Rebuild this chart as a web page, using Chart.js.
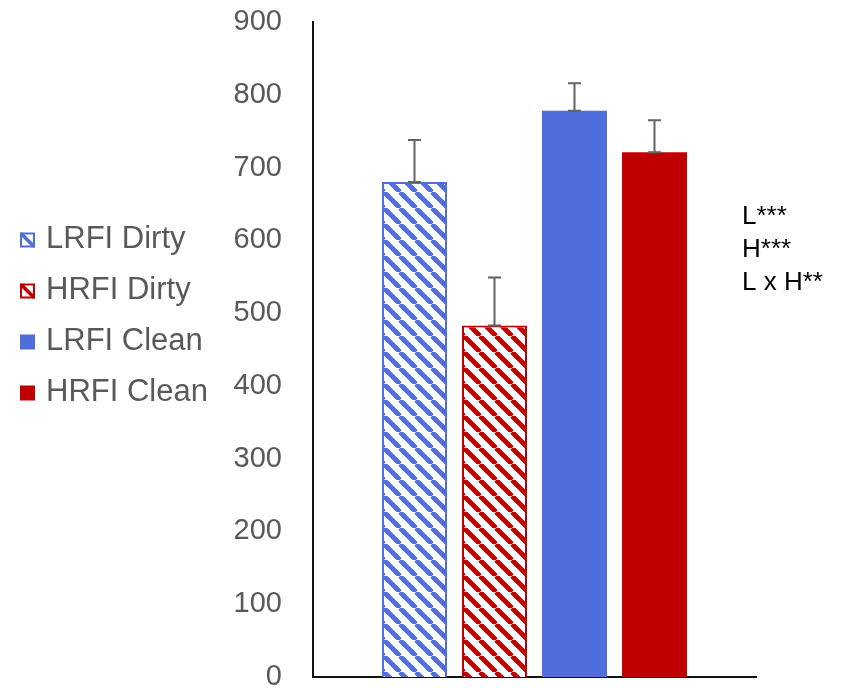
<!DOCTYPE html>
<html><head><meta charset="utf-8">
<script src="https://cdn.jsdelivr.net/npm/chart.js@4"></script>
<style>html,body{margin:0;padding:0;background:#fff}#wrap{width:848px;height:688px}</style>
</head><body><div id="wrap"><canvas id="c" width="848" height="688"></canvas></div>
<script>
const categories = [''];
const seriesNames = ['LRFI Dirty', 'HRFI Dirty', 'LRFI Clean', 'HRFI Clean'];
const seriesValues = [680, 483, 778, 721];
const seriesErrors = [58, 66, 38, 44];
const seriesColors = ['#4F6DDB', '#C00000', '#4F6DDB', '#C00000'];
const seriesHatched = [true, true, false, false];
const yTickValues = [0, 100, 200, 300, 400, 500, 600, 700, 800, 900];
const annotationLines = ['L***', 'H***', 'L x H**'];

const FONT = '"Liberation Sans", Arial, sans-serif';

function makeHatch(color) {
  const c = document.createElement('canvas');
  c.width = 16; c.height = 16;
  const g = c.getContext('2d');
  g.fillStyle = '#fff'; g.fillRect(0, 0, 16, 16);
  g.strokeStyle = color; g.lineWidth = 4.8;
  for (const x0 of [-16, 0, 16]) {
    g.beginPath(); g.moveTo(x0, 0); g.lineTo(x0 + 16, 16); g.stroke();
  }
  return g.createPattern(c, 'repeat');
}

const datasets = seriesNames.map((name, i) => ({
  label: name,
  data: [seriesValues[i]],
  backgroundColor: seriesHatched[i] ? makeHatch(seriesColors[i]) : seriesColors[i],
  borderColor: seriesColors[i],
  borderWidth: seriesHatched[i] ? 2 : 0,
  barPercentage: 0.8125,
  categoryPercentage: 0.7223
}));

const errorBars = {
  id: 'errorBars',
  afterDatasetsDraw(chart) {
    const ctx = chart.ctx, y = chart.scales.y;
    ctx.save();
    ctx.strokeStyle = '#636363';
    ctx.lineWidth = 2;
    chart.data.datasets.forEach((ds, i) => {
      const bar = chart.getDatasetMeta(i).data[0];
      const x = bar.x;
      const yb = y.getPixelForValue(seriesValues[i]);
      const yt = y.getPixelForValue(seriesValues[i] + seriesErrors[i]);
      ctx.beginPath();
      ctx.moveTo(x, yb); ctx.lineTo(x, yt);
      ctx.moveTo(x - 6.5, yt); ctx.lineTo(x + 6.5, yt);
      ctx.moveTo(x - 6.5, yb); ctx.lineTo(x + 6.5, yb);
      ctx.stroke();
    });
    ctx.restore();
  }
};

const customLegend = {
  id: 'customLegend',
  afterDraw(chart) {
    const ctx = chart.ctx;
    const ys = [239, 290, 341, 392];
    ctx.save();
    seriesNames.forEach((name, i) => {
      const cy = ys[i];
      const bx = 20, by = cy - 6.5, s = 15;
      if (seriesHatched[i]) {
        ctx.fillStyle = '#fff'; ctx.fillRect(bx, by, s, s);
        ctx.save();
        ctx.beginPath(); ctx.rect(bx, by, s, s); ctx.clip();
        ctx.strokeStyle = seriesColors[i]; ctx.lineWidth = 3.5;
        ctx.beginPath(); ctx.moveTo(bx, by); ctx.lineTo(bx + s, by + s); ctx.stroke();
        ctx.restore();
        ctx.strokeStyle = seriesColors[i]; ctx.lineWidth = 2;
        ctx.strokeRect(bx + 1, by + 1, s - 2, s - 2);
      } else {
        ctx.fillStyle = seriesColors[i]; ctx.fillRect(bx, by, s, s);
      }
      ctx.fillStyle = '#595959';
      ctx.font = '31px ' + FONT;
      ctx.textBaseline = 'middle';
      ctx.textAlign = 'left';
      ctx.fillText(name, 46, cy);
    });
    ctx.fillStyle = '#000';
    ctx.font = '26px ' + FONT;
    const ays = [217, 250, 283];
    annotationLines.forEach((t, i) => ctx.fillText(t, 742, ays[i]));
    ctx.restore();
  }
};

new Chart(document.getElementById('c'), {
  type: 'bar',
  data: { labels: categories, datasets },
  options: {
    responsive: false,
    devicePixelRatio: 1,
    animation: false,
    layout: { padding: { top: 22, bottom: 11, left: 0, right: 92 } },
    plugins: { legend: { display: false }, tooltip: { enabled: false } },
    scales: {
      x: {
        type: 'category',
        ticks: { display: false },
        grid: { display: false, drawTicks: false },
        border: { display: true, color: '#111', width: 2 },
        afterFit(s) { s.height = 0; s.paddingLeft = 0; s.paddingRight = 0; }
      },
      y: {
        min: 0, max: 900,
        afterBuildTicks(s) { s.ticks = yTickValues.map(v => ({ value: v })); },
        ticks: { color: '#595959', font: { size: 29, family: FONT }, padding: 31 },
        grid: { display: false, drawTicks: false },
        border: { display: true, color: '#111', width: 2 },
        afterFit(s) { s.width = 313; s.paddingTop = 0; s.paddingBottom = 0; }
      }
    }
  },
  plugins: [errorBars, customLegend]
});
</script></body></html>
